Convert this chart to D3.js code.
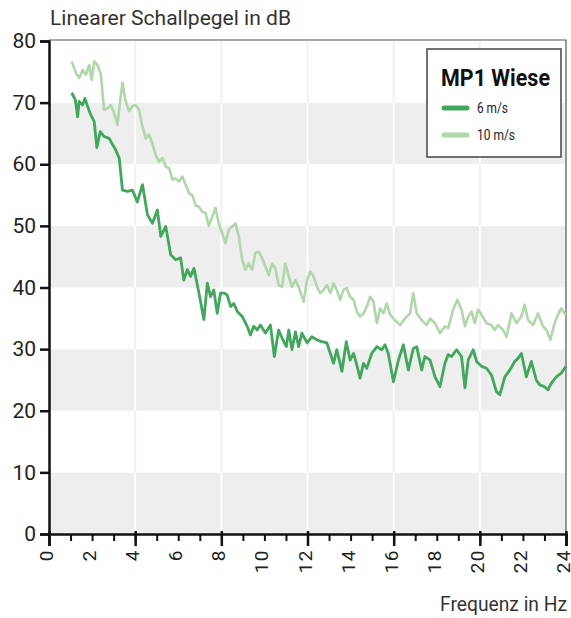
<!DOCTYPE html>
<html><head><meta charset="utf-8">
<script src="https://cdn.jsdelivr.net/npm/d3@7"></script>
<style>
body{margin:0;background:#fff;}
text{font-family:"Roboto","Liberation Sans",sans-serif;}
</style></head>
<body>
<svg id="c" width="571" height="618"></svg>
<script>
const titleText = "Linearer Schallpegel in dB";
const xLabelText = "Frequenz in Hz";
const legendTitle = "MP1 Wiese";
const seriesNames = ["6 m/s", "10 m/s"];
const yTicks = [0,10,20,30,40,50,60,70,80];
const xTicks = [0,2,4,6,8,10,12,14,16,18,20,22,24];

const freq6 = [1.05,1.22,1.33,1.40,1.56,1.67,1.79,1.94,2.10,2.22,2.38,2.56,2.79,2.95,3.10,3.26,3.41,3.64,3.87,4.10,4.34,4.57,4.80,5.03,5.19,5.42,5.65,5.88,6.11,6.26,6.42,6.57,6.73,6.96,7.19,7.35,7.50,7.65,7.81,7.96,8.12,8.27,8.43,8.58,8.74,8.97,9.20,9.35,9.50,9.66,9.81,10.05,10.28,10.46,10.66,10.82,11.02,11.13,11.28,11.44,11.59,11.74,11.98,12.20,12.44,12.67,12.90,13.06,13.21,13.36,13.60,13.80,13.98,14.14,14.29,14.44,14.60,14.75,14.98,15.22,15.45,15.60,15.75,15.99,16.22,16.45,16.68,16.91,17.07,17.30,17.45,17.69,17.92,18.15,18.38,18.53,18.69,18.92,19.15,19.31,19.46,19.69,19.85,20.08,20.31,20.54,20.77,20.93,21.16,21.39,21.62,21.77,21.93,22.16,22.39,22.62,22.78,23.00,23.16,23.32,23.55,23.78,24.00];
const val6 = [71.6,70.5,67.7,70.2,69.6,70.7,69.4,68.0,66.9,62.7,65.3,64.5,64.2,63.2,62.3,61.0,55.8,55.6,55.8,53.9,56.7,51.8,50.4,52.6,48.3,49.9,45.3,44.5,44.8,41.2,42.9,41.8,43.1,39.1,34.8,40.7,38.5,39.6,35.8,39.1,39.1,38.8,36.9,37.4,36.1,35.3,33.7,32.3,33.7,33.1,33.9,32.6,33.9,28.8,33.1,31.8,30.4,33.1,29.9,32.8,30.4,32.6,31.0,32.0,31.5,31.2,31.0,29.3,27.7,29.9,26.4,31.2,28.2,29.3,27.4,25.3,27.7,26.9,29.3,30.4,29.9,30.7,29.3,24.7,28.2,30.7,26.6,30.1,30.4,26.6,28.8,28.2,25.5,23.9,27.7,29.1,28.8,29.9,28.8,23.7,28.2,29.9,28.0,27.2,26.9,25.8,23.1,22.6,25.5,26.6,28.0,28.5,29.3,25.5,28.0,25.0,24.2,23.9,23.4,24.5,25.5,26.1,27.2];

const freq10 = [1.05,1.25,1.40,1.56,1.71,1.87,1.98,2.10,2.25,2.41,2.49,2.56,2.72,2.87,3.02,3.18,3.30,3.41,3.56,3.72,3.87,4.03,4.18,4.34,4.49,4.64,4.80,4.95,5.11,5.26,5.42,5.57,5.73,5.88,6.03,6.19,6.34,6.50,6.65,6.81,6.96,7.12,7.27,7.42,7.58,7.73,7.88,8.04,8.19,8.35,8.50,8.66,8.81,8.97,9.12,9.27,9.43,9.58,9.74,9.89,10.05,10.20,10.36,10.51,10.66,10.82,10.97,11.13,11.28,11.44,11.59,11.82,11.98,12.13,12.28,12.44,12.59,12.74,12.90,13.06,13.21,13.36,13.52,13.67,13.82,13.98,14.14,14.29,14.44,14.60,14.75,14.91,15.06,15.22,15.37,15.52,15.68,15.83,16.06,16.30,16.53,16.76,16.91,17.07,17.30,17.53,17.69,17.92,18.15,18.38,18.53,18.76,18.95,19.15,19.31,19.46,19.62,19.77,19.92,20.08,20.31,20.54,20.69,20.85,21.08,21.24,21.47,21.70,21.93,22.08,22.24,22.47,22.70,22.93,23.09,23.27,23.47,23.63,23.78,23.94,24.00];
const val10 = [76.7,74.8,74.0,75.3,74.5,76.1,73.7,76.7,76.1,74.5,71.3,68.8,69.1,69.6,68.3,66.4,70.2,73.2,70.2,68.6,69.4,69.6,68.8,66.1,64.2,64.8,63.4,61.5,60.4,61.0,59.6,59.4,57.5,57.7,57.2,58.0,56.7,55.3,55.0,53.3,53.1,52.3,52.1,50.0,51.5,52.9,50.4,48.8,47.2,49.4,49.9,50.4,48.3,44.5,42.9,43.9,42.9,45.6,45.8,44.8,43.4,42.0,43.9,43.1,40.4,40.1,43.9,41.8,40.1,41.2,40.1,37.7,41.2,42.6,41.8,40.1,39.1,39.6,40.4,39.1,40.7,39.6,38.0,39.6,39.9,38.5,38.0,36.1,35.3,35.8,36.9,38.5,37.7,34.2,36.6,35.8,37.4,35.6,34.7,33.9,35.0,35.8,39.1,35.8,34.7,33.9,35.0,34.2,32.6,33.7,33.4,36.4,38.0,36.4,33.7,35.3,36.1,34.2,36.4,35.6,34.2,33.9,33.1,33.9,33.1,32.0,35.8,34.2,35.3,37.2,34.7,33.9,35.8,33.7,33.1,31.5,34.2,35.6,36.6,35.8,35.5];

const colors = ["#40a75c", "#afd7a9"];

const svg = d3.select("#c");
const L = 49, R = 566, T = 41, B = 534;
const x = d3.scaleLinear().domain([0,24]).range([L,R]);
const y = d3.scaleLinear().domain([0,80]).range([B,T]);

const bands = d3.range(0,80,10);
svg.selectAll("rect.band").data(bands).enter().append("rect")
  .attr("x", L).attr("width", R-L)
  .attr("y", d => y(d+10)).attr("height", d => y(d)-y(d+10))
  .attr("fill", d => (d/10)%2===0 ? "#eeeeee" : "#ffffff");
const vg = [4,8,12,16,20];
bands.forEach(b => {
  svg.selectAll(null).data(vg).enter().append("line")
    .attr("x1", d=>x(d)).attr("x2", d=>x(d))
    .attr("y1", y(b+10)).attr("y2", y(b))
    .attr("stroke", (b/10)%2===0 ? "#ffffff" : "#f0f0f0").attr("stroke-width", 2);
});
svg.append("path").attr("d", `M${L},${T-1}H${R}V${B}`).attr("fill","none").attr("stroke","#555").attr("stroke-width",1.2);

const line = d3.line().x(d=>x(d[0])).y(d=>y(d[1]));
const d10 = freq10.map((f,i)=>[f,val10[i]]);
const d6 = freq6.map((f,i)=>[f,val6[i]]);
svg.append("path").datum(d10).attr("d", line).attr("fill","none").attr("stroke",colors[1]).attr("stroke-width",2.6).attr("stroke-linejoin","round");
svg.append("path").datum(d6).attr("d", line).attr("fill","none").attr("stroke",colors[0]).attr("stroke-width",2.8).attr("stroke-linejoin","round");

const yAxis = d3.axisLeft(y).tickValues(yTicks).tickSize(9).tickPadding(4);
const gy = svg.append("g").attr("transform",`translate(${L},0)`).call(yAxis);
gy.select(".domain").attr("stroke","#111").attr("stroke-width",2.5);
gy.selectAll(".tick line").attr("stroke","#111").attr("stroke-width",2.5);
gy.selectAll(".tick text").attr("font-size",21).attr("fill","#222").attr("font-family",null);

const xMinor = d3.axisBottom(x).tickValues(d3.range(0,25,1)).tickSize(7).tickFormat("");
const gxm = svg.append("g").attr("transform",`translate(0,${B})`).call(xMinor);
gxm.select(".domain").remove();
gxm.selectAll(".tick line").attr("stroke","#111").attr("stroke-width",2);
const xAxis = d3.axisBottom(x).tickValues([0,4,8,12,16,20,24]).tickSize(12).tickFormat("");
const gx = svg.append("g").attr("transform",`translate(0,${B})`).call(xAxis);
gx.select(".domain").attr("stroke","#111").attr("stroke-width",2.5);
gx.selectAll(".tick line").attr("stroke","#111").attr("stroke-width",2.5).attr("y1",-3);
svg.append("g").selectAll("text").data(xTicks).enter().append("text")
  .attr("transform", d=>`translate(${x(d)+4},549) rotate(-90)`)
  .attr("text-anchor","end").attr("font-size",19).attr("letter-spacing",1.5).attr("fill","#222").text(d=>d);

svg.append("text").attr("x",50).attr("y",25).attr("font-size",21).attr("fill","#333")
  .attr("textLength",241).attr("lengthAdjust","spacingAndGlyphs").text(titleText);
svg.append("text").attr("x",567).attr("y",611).attr("text-anchor","end").attr("font-size",20).attr("fill","#333")
  .attr("textLength",127).attr("lengthAdjust","spacingAndGlyphs").text(xLabelText);

const lg = svg.append("g");
lg.append("rect").attr("x",427).attr("y",49).attr("width",134).attr("height",108).attr("fill","#fff").attr("stroke","#444").attr("stroke-width",1.5);
lg.append("text").attr("x",441).attr("y",86).attr("font-size",23).attr("font-weight","bold").attr("fill","#111")
  .attr("textLength",109).attr("lengthAdjust","spacingAndGlyphs").text(legendTitle);
const lgLen = [31, 38];
seriesNames.forEach((n,i)=>{
  const yy = 108 + i*27;
  lg.append("line").attr("x1",444).attr("x2",467).attr("y1",yy).attr("y2",yy).attr("stroke",colors[i]).attr("stroke-width",5).attr("stroke-linecap","round");
  lg.append("text").attr("x",477).attr("y",yy+5).attr("font-size",15).attr("fill","#222")
    .attr("textLength",lgLen[i]).attr("lengthAdjust","spacingAndGlyphs").text(n);
});
</script>
</body></html>
